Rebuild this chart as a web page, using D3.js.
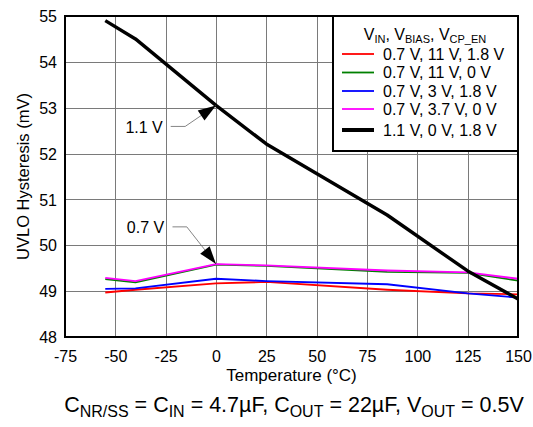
<!DOCTYPE html>
<html><head><meta charset="utf-8">
<script src="https://cdn.jsdelivr.net/npm/d3@7"></script>
<style>body{margin:0;background:#fff}svg{display:block;font-family:"Liberation Sans",Arial,sans-serif}</style>
</head><body><svg id="c" width="533" height="427"></svg>
<script>
const temps = [-55, -40, 0, 25, 85, 125, 150];
const seriesNames = ["0.7 V, 11 V, 1.8 V", "0.7 V, 11 V, 0 V", "0.7 V, 3 V, 1.8 V", "0.7 V, 3.7 V, 0 V", "1.1 V, 0 V, 1.8 V"];
const red     = [48.97, 49.03, 49.17, 49.20, 49.03, 48.95, 48.93];
const green   = [49.26, 49.19, 49.58, 49.55, 49.42, 49.40, 49.23];
const blue    = [49.05, 49.06, 49.27, 49.22, 49.15, 48.95, 48.86];
const magenta = [49.29, 49.22, 49.59, 49.56, 49.45, 49.41, 49.27];
const black   = [54.90, 54.50, 53.05, 52.21, 50.66, 49.44, 48.83];
const xTicks = [-75, -50, -25, 0, 25, 50, 75, 100, 125, 150];
const yTicks = [48, 49, 50, 51, 52, 53, 54, 55];
const colors = ["#ff0000", "#008000", "#0000ff", "#ff00ff", "#000000"];
const widths = [1.8, 1.8, 1.8, 1.8, 3.4];
const seriesValues = [red, green, blue, magenta, black];
const drawOrder = [1, 0, 2, 3, 4];
// annotations: label position (temp, value), leader start/end temps, target point index
const annotations = [
  {text: "1.1 V", tx: -45, ty: 52.57, lx0: -22.5, lx1: -15.3, series: 4, idx: 2},
  {text: "0.7 V", tx: -44.3, ty: 50.38, lx0: -21.6, lx1: -14.5, series: 3, idx: 2}
];

const svg = d3.select("#c");
const L = 65, R = 518, T = 16, B = 337;
const x = d3.scaleLinear().domain([-75, 150]).range([L, R]);
const y = d3.scaleLinear().domain([48, 55]).range([B, T]);
const fmt = d => String(d);

// grid
const g = svg.append("g");
g.selectAll(".vg").data(xTicks.slice(1, -1)).enter().append("line")
  .attr("x1", d => Math.round(x(d)) + 0.5).attr("x2", d => Math.round(x(d)) + 0.5)
  .attr("y1", T).attr("y2", B).attr("stroke", "#7a7a7a").attr("stroke-width", 1);
g.selectAll(".hg").data(yTicks.slice(1, -1)).enter().append("line")
  .attr("y1", d => Math.round(y(d)) + 0.5).attr("y2", d => Math.round(y(d)) + 0.5)
  .attr("x1", L).attr("x2", R).attr("stroke", "#7a7a7a").attr("stroke-width", 1);

// axes (labels only)
const xAxis = d3.axisBottom(x).tickValues(xTicks).tickFormat(fmt).tickSize(0).tickPadding(0);
const xg = svg.append("g").attr("transform", `translate(0,${B})`).call(xAxis);
xg.select(".domain").remove();
xg.selectAll("text").attr("font-size", 16).attr("fill", "#000").attr("font-family", "Liberation Sans, Arial, sans-serif").attr("dy", null).attr("y", 25);
const yAxis = d3.axisLeft(y).tickValues(yTicks).tickFormat(fmt).tickSize(0).tickPadding(0);
const yg = svg.append("g").attr("transform", `translate(${L - 8},0)`).call(yAxis);
yg.select(".domain").remove();
yg.selectAll("text").attr("font-size", 16).attr("fill", "#000").attr("font-family", "Liberation Sans, Arial, sans-serif").attr("dy", "0.35em");

// lines
const line = d3.line().x((d, i) => x(temps[i])).y(d => y(d));
drawOrder.forEach(k => {
  svg.append("path").datum(seriesValues[k]).attr("d", line)
    .attr("fill", "none").attr("stroke", colors[k]).attr("stroke-width", widths[k])
    .attr("stroke-linejoin", "round");
});

// frame
svg.append("rect").attr("x", L).attr("y", T).attr("width", R - L).attr("height", B - T)
  .attr("fill", "none").attr("stroke", "#000").attr("stroke-width", 2);

// annotations
annotations.forEach(a => {
  const tipX = x(temps[a.idx]), tipY = y(seriesValues[a.series][a.idx]);
  const ly = y(a.ty);
  svg.append("text").attr("x", x(a.tx)).attr("y", ly).attr("dy", "0.35em")
    .attr("font-size", 16).attr("fill", "#000").text(a.text);
  const sx = x(a.lx1), sy = ly - 1;
  svg.append("polyline").attr("points", `${x(a.lx0)},${sy} ${sx},${sy} ${tipX},${tipY}`)
    .attr("fill", "none").attr("stroke", "#666").attr("stroke-width", 0.8);
  const ang = Math.atan2(tipY - sy, tipX - sx);
  const len = 18, hw = 6;
  const bx = tipX - len * Math.cos(ang), by = tipY - len * Math.sin(ang);
  const px = -Math.sin(ang) * hw, py = Math.cos(ang) * hw;
  svg.append("polygon").attr("points", `${tipX},${tipY} ${bx + px},${by + py} ${bx - px},${by - py}`)
    .attr("fill", "#000");
});

// legend
const lg = svg.append("g");
lg.append("rect").attr("x", 333).attr("y", T).attr("width", R - 333).attr("height", 151 - T)
  .attr("fill", "#fff").attr("stroke", "#000").attr("stroke-width", 2);
const title = lg.append("text").attr("x", 425).attr("y", 40).attr("text-anchor", "middle").attr("font-size", 16);
[["V", "IN"], [", V", "BIAS"], [", V", "CP_EN"]].forEach(([m, s], i) => {
  const t = title.append("tspan").text(m);
  if (i > 0) t.attr("dy", -3);
  title.append("tspan").attr("font-size", 11).attr("dy", 3).text(s);
});
const rowY = [54, 72.5, 91, 109, 130];
seriesNames.forEach((n, i) => {
  lg.append("line").attr("x1", 342).attr("x2", 374).attr("y1", rowY[i]).attr("y2", rowY[i])
    .attr("stroke", colors[i]).attr("stroke-width", widths[i] === 3.4 ? 4 : 1.8);
  lg.append("text").attr("x", 383).attr("y", rowY[i]).attr("dy", "0.35em").attr("font-size", 16).text(n);
});

// axis titles
svg.append("text").attr("x", (L + R) / 2).attr("y", 381).attr("text-anchor", "middle").attr("font-size", 17).text("Temperature (°C)");
svg.append("text").attr("transform", `translate(23,${(T + B) / 2}) rotate(-90)`).attr("text-anchor", "middle")
  .attr("dy", "0.35em").attr("font-size", 16.5).text("UVLO Hysteresis (mV)");

// caption
const cap = svg.append("text").attr("x", 294).attr("y", 412).attr("text-anchor", "middle").attr("font-size", 21.5);
[["C", "NR/SS"], [" = C", "IN"], [" = 4.7µF, C", "OUT"], [" = 22µF, V", "OUT"], [" = 0.5V", null]].forEach(([m, s], i) => {
  const t = cap.append("tspan").text(m);
  if (i > 0) t.attr("dy", -5);
  if (s) cap.append("tspan").attr("font-size", 16).attr("dy", 5).text(s);
});
</script></body></html>
